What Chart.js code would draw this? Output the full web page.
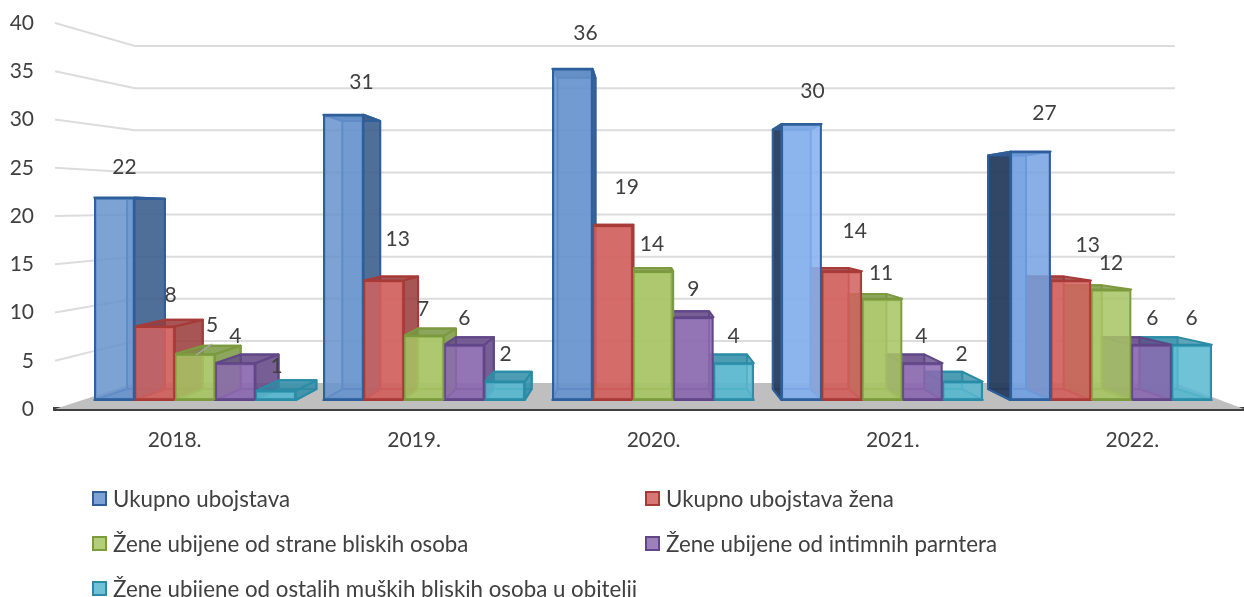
<!DOCTYPE html>
<html>
<head>
<meta charset="utf-8">
<style>
  html, body { margin: 0; padding: 0; background: #fff; overflow: hidden; }
  #wrap { position: relative; width: 1244px; height: 597px; overflow: hidden; }
  #legend {
    position: absolute; left: 92px; top: 476px; display: grid;
    grid-template-columns: 553px 1fr; grid-auto-rows: 45px;
    font: 22.3px Lato, sans-serif; color: #404040;
  }
  .item { display: flex; align-items: center; white-space: nowrap; }
  .swatch { width: 11px; height: 11px; margin-right: 6px; border: 2px solid; flex: none; }
</style>
</head>
<body>
<div id="wrap">
  <!-- a little wider than the page: the last category band runs past the right edge -->
  <canvas id="chart" width="1252" height="597"></canvas>
  <div id="legend"></div>
</div>
<script src="https://cdn.jsdelivr.net/npm/chart.js@4"></script>
<script>
const years = ['2018.', '2019.', '2020.', '2021.', '2022.'];
const yTicks = [0, 5, 10, 15, 20, 25, 30, 35, 40];

const seriesNames = [
  'Ukupno ubojstava',
  'Ukupno ubojstava žena',
  'Žene ubijene od strane bliskih osoba',
  'Žene ubijene od intimnih parntera',
  'Žene ubijene od ostalih muških bliskih osoba u obitelji'
];
const ukupno = [22, 31, 36, 30, 27];
const ukupnoZena = [8, 13, 19, 14, 13];
const bliskihOsoba = [5, 7, 14, 11, 12];
const intimnih = [4, 6, 9, 4, 6];
const ostalih = [1, 2, 4, 2, 6];
const seriesValues = [ukupno, ukupnoZena, bliskihOsoba, intimnih, ostalih];

// colours per series: front face, side face, edge
const fronts = ['rgba(104,148,206,0.86)', 'rgba(210,98,96,0.86)', 'rgba(168,197,100,0.86)', 'rgba(140,106,176,0.86)', 'rgba(88,184,207,0.86)'];
const sides = ['rgba(58,92,135,0.82)', 'rgba(150,60,60,0.78)', 'rgba(122,150,70,0.78)', 'rgba(98,72,132,0.78)', 'rgba(50,140,165,0.78)'];
const backs = ['rgba(79,129,195,0.45)', 'rgba(196,72,70,0.45)', 'rgba(150,184,80,0.45)', 'rgba(120,88,160,0.45)', 'rgba(62,168,196,0.45)'];
const edges = ['#2f5f9a', '#a83a38', '#7c9a3e', '#614688', '#2a8ca6'];
// the blue bars catch more light towards the right, their left sides go dark
const blueFronts = ['rgba(104,148,206,0.86)', 'rgba(104,148,206,0.86)', 'rgba(104,148,206,0.86)', 'rgba(136,178,238,0.88)', 'rgba(116,162,226,0.86)'];
const darkBlueSide = 'rgba(36,58,88,0.9)';

// label nudges from the bar's top centre, as placed in the original
const labelDx = [
  [10, 18, 13, 11, 14],
  [16, 14, 14, 13, 17],
  [17, -1, -1, -1, 0],
  [0, 0, 0, -1, 1],
  [1, 1, 0, -1, 0]
];
const labelDy = [
  [-30, -33, -36, -33, -38],
  [-31, -41, -38, -40, -35],
  [-29, -26, -27, -26, -26],
  [-27, -27, -28, -27, -27],
  [-25, -27, -27, -27, -27]
];

// 3D look: bars recede towards this vanishing point
const VP_X = 640, VP_Y = 217, DEPTH = 0.94;
const WALL_X = 135, WALL_RIGHT = 1175;

const back = (x, y) => [VP_X + DEPTH * (x - VP_X), VP_Y + DEPTH * (y - VP_Y)];

function quad(ctx, pts, fill, stroke) {
  ctx.beginPath();
  pts.forEach((p, i) => i ? ctx.lineTo(p[0], p[1]) : ctx.moveTo(p[0], p[1]));
  ctx.closePath();
  ctx.fillStyle = fill;
  ctx.fill();
  ctx.strokeStyle = stroke;
  ctx.lineWidth = 2;
  ctx.lineJoin = 'round';
  ctx.stroke();
}

const depthPlugin = {
  id: 'depth',
  beforeDatasetsDraw(chart) {
    const ctx = chart.ctx;
    const area = chart.chartArea;
    const yFront = chart.scales.y;
    const yBack = chart.scales.yBack;
    ctx.save();

    // floor
    ctx.beginPath();
    ctx.moveTo(area.left, area.bottom);
    ctx.lineTo(WALL_X, yBack.getPixelForValue(0));
    ctx.lineTo(WALL_RIGHT, yBack.getPixelForValue(0));
    ctx.lineTo(1244, area.bottom);
    ctx.closePath();
    ctx.fillStyle = '#bfbfbf';
    ctx.fill();

    // walls
    ctx.strokeStyle = '#dcdcdc';
    ctx.lineWidth = 2;
    yTicks.slice(1).forEach(t => {
      ctx.beginPath();
      ctx.moveTo(area.left, yFront.getPixelForValue(t));
      ctx.lineTo(WALL_X, yBack.getPixelForValue(t));
      ctx.lineTo(WALL_RIGHT, yBack.getPixelForValue(t));
      ctx.stroke();
    });

    // side, back and top faces, furthest from the vanishing point first
    const bars = [];
    seriesValues.forEach((vals, s) => {
      chart.getDatasetMeta(s).data.forEach(el => bars.push({ el, s }));
    });
    bars.sort((a, b) => Math.abs(b.el.x - VP_X) - Math.abs(a.el.x - VP_X));
    bars.forEach(({ el, s }) => {
      const l = el.x - el.width / 2, r = el.x + el.width / 2;
      const top = el.y, base = el.base;
      const side = sides[s], edge = edges[s];
      quad(ctx, [back(l, top), back(r, top), back(r, base), back(l, base)], backs[s], edge);
      quad(ctx, [[l, base], [r, base], back(r, base), back(l, base)], backs[s], edge);
      if (l < VP_X) quad(ctx, [[r, top], back(r, top), back(r, base), [r, base]], side, edge);
      if (r > VP_X) quad(ctx, [[l, top], back(l, top), back(l, base), [l, base]], s === 0 ? darkBlueSide : side, edge);
      quad(ctx, [[l, top], [r, top], back(r, top), back(l, top)], side, edge);
    });
    ctx.restore();
  },
  afterDatasetsDraw(chart) {
    const ctx = chart.ctx;
    ctx.save();
    // the one leader line the original keeps, 2018 label 5
    const g = chart.getDatasetMeta(2).data[0];
    ctx.strokeStyle = '#a6a6a6';
    ctx.lineWidth = 1.5;
    ctx.beginPath();
    ctx.moveTo(g.x + 17, g.y - 10);
    ctx.lineTo(g.x + 1, g.y + 1);
    ctx.stroke();

    ctx.font = '21px Lato, sans-serif';
    ctx.fillStyle = '#404040';
    ctx.textAlign = 'center';
    ctx.textBaseline = 'middle';
    seriesValues.forEach((vals, s) => {
      chart.getDatasetMeta(s).data.forEach((el, i) => {
        ctx.fillText(vals[i], el.x + labelDx[s][i], el.y + labelDy[s][i]);
      });
    });
    ctx.restore();
  }
};

const datasets = seriesNames.map((name, s) => ({
  label: name,
  data: seriesValues[s].map((v, i) => ({ x: i, y: v })),
  xAxisID: 'xBars',
  yAxisID: 'yBars',
  backgroundColor: s === 0 ? blueFronts : fronts[s],
  borderColor: edges[s],
  borderWidth: 2,
  borderSkipped: false,
  barThickness: 40.3
}));

new Chart(document.getElementById('chart'), {
  type: 'bar',
  data: { labels: years, datasets },
  plugins: [depthPlugin],
  options: {
    responsive: false,
    animation: false,
    layout: { autoPadding: false, padding: { top: 23, right: 0, left: 0, bottom: 0 } },
    plugins: { legend: { display: false }, tooltip: { enabled: false } },
    scales: {
      x: {
        type: 'category',
        offset: true,
        grid: { display: false },
        border: { color: '#404040', width: 4 },
        ticks: { font: { family: 'Lato', size: 21 }, color: '#404040', padding: 11, maxRotation: 0 },
        afterFit(scale) { scale.height = 188; scale.paddingLeft = 0; scale.paddingRight = 0; }
      },
      y: {
        min: 0,
        max: 40,
        grid: { display: false, drawTicks: false },
        border: { display: false },
        ticks: { stepSize: 5, font: { family: 'Lato', size: 21 }, color: '#404040', padding: 21 },
        afterFit(scale) { scale.width = 55; scale.paddingTop = 0; scale.paddingBottom = 0; }
      },
      // bars stand on a nearer plane than the axis labels, hence their own scales
      xBars: { type: 'linear', display: false, offset: false, bounds: 'data', min: -0.6113, max: 4.6153 },
      yBars: { display: false, bounds: 'data', min: -0.978, max: 40.98 },
      yBack: { display: false, bounds: 'data', min: -3.086, max: 42.73 }
    }
  }
});

const legendEl = document.getElementById('legend');
seriesNames.forEach((name, s) => {
  const item = document.createElement('div');
  item.className = 'item';
  item.innerHTML = `<span class="swatch" style="background-color:${fronts[s]};border-color:${edges[s]}"></span><span>${name}</span>`;
  legendEl.appendChild(item);
});
</script>
</body>
</html>
